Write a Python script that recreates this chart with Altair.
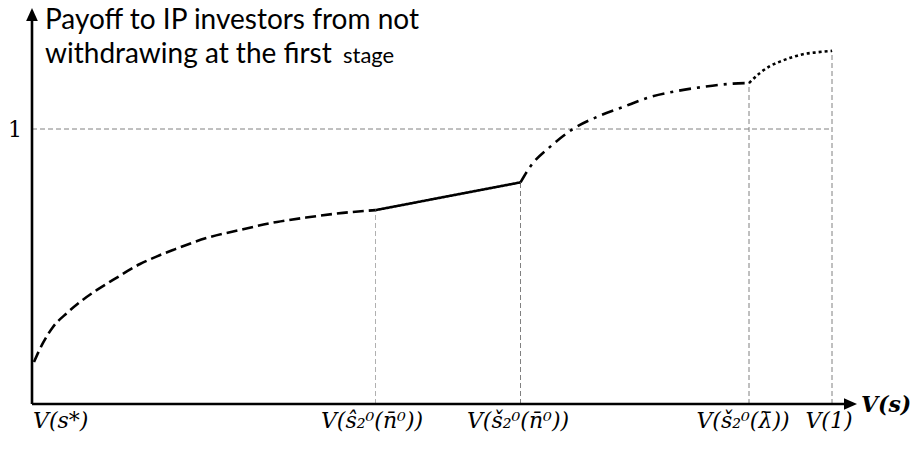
import altair as alt
import pandas as pd

# ---------------- data ----------------
# x: position along V(s) axis (0 = V(s*), 800 = V(1)); y: payoff (1 = reference level)
dashed_x = [2, 11, 21, 35, 48, 65, 81, 108, 125, 141, 175, 208, 245, 278, 311, 343.5]
dashed_y = [0.153, 0.222, 0.280, 0.331, 0.371, 0.415, 0.451, 0.509, 0.537, 0.560,
            0.604, 0.633, 0.662, 0.680, 0.695, 0.705]
solid_x = [343.5, 488.5]
solid_y = [0.705, 0.806]
dashdot_x = [488.5, 498, 518, 541, 565, 591, 618, 645, 671, 701, 717]
dashdot_y = [0.806, 0.862, 0.935, 1.000, 1.044, 1.080, 1.116, 1.138, 1.153, 1.165, 1.167]
dotted_x = [717, 728, 738, 748, 760, 771, 785, 800]
dotted_y = [1.167, 1.204, 1.229, 1.245, 1.261, 1.272, 1.279, 1.284]

tick_x = [343.5, 488.5, 717, 800]
tick_top = [0.705, 0.806, 1.167, 1.284]
tick_colors = ["#b0b0b0", "#808080", "#808080", "#808080"]
tick_labels = ["V(s*)", "V(ŝ₂⁰(n̄⁰))", "V(š₂⁰(n̄⁰))", "V(š₂⁰(λ̄))", "V(1)"]
tick_label_x = [1, 340, 486, 711, 797]
ref_level = 1
title_lines = ["Payoff to IP investors from not", "withdrawing at the first"]
title_small = "stage"
x_axis_title = "V(s)"

X_MAX = 825
Y_MAX = 396 / 275

xs = alt.Scale(domain=[0, X_MAX], nice=False, zero=False)
ys = alt.Scale(domain=[0, Y_MAX], nice=False, zero=False)


def seg_line(xv, yv, dash, cap="butt"):
    df = pd.DataFrame({"x": xv, "y": yv, "o": list(range(len(xv)))})
    return alt.Chart(df).mark_line(
        color="black", strokeWidth=2.6, strokeDash=dash, strokeCap=cap,
        interpolate="monotone"
    ).encode(
        x=alt.X("x:Q", scale=xs, axis=None),
        y=alt.Y("y:Q", scale=ys, axis=None),
        order="o:Q",
    )


# reference (guide) lines
vdf = pd.DataFrame({"x": tick_x, "y": [0] * len(tick_x), "y2": tick_top, "c": tick_colors})
vlines = alt.Chart(vdf).mark_rule(strokeWidth=1, strokeDash=[5, 3]).encode(
    x=alt.X("x:Q", scale=xs, axis=None),
    y=alt.Y("y:Q", scale=ys, axis=None),
    y2="y2:Q",
    color=alt.Color("c:N", scale=None),
)
hdf = pd.DataFrame({"x": [0], "x2": [tick_x[-1]], "y": [ref_level]})
hline = alt.Chart(hdf).mark_rule(strokeWidth=1, strokeDash=[5, 3], color="#808080").encode(
    x=alt.X("x:Q", scale=xs, axis=None),
    x2="x2:Q",
    y=alt.Y("y:Q", scale=ys, axis=None),
)

# axes with arrows
adf = pd.DataFrame({"x": [0, 0], "x2": [0, X_MAX - 8], "y": [0, 0], "y2": [Y_MAX - 8 / 275, 0]})
axes = alt.Chart(adf).mark_rule(color="black", strokeWidth=2.6).encode(
    x=alt.X("x:Q", scale=xs, axis=None),
    x2="x2:Q",
    y=alt.Y("y:Q", scale=ys, axis=None),
    y2="y2:Q",
)
up_head = alt.Chart(pd.DataFrame({"x": [0], "y": [Y_MAX]})).mark_point(
    shape="M0,0L-0.45,1L0.45,1Z", size=676, filled=True, fill="black", opacity=1, strokeWidth=0
).encode(x=alt.X("x:Q", scale=xs, axis=None), y=alt.Y("y:Q", scale=ys, axis=None))
right_head = alt.Chart(pd.DataFrame({"x": [X_MAX], "y": [0]})).mark_point(
    shape="M0,0L-1,-0.45L-1,0.45Z", size=676, filled=True, fill="black", opacity=1, strokeWidth=0
).encode(x=alt.X("x:Q", scale=xs, axis=None), y=alt.Y("y:Q", scale=ys, axis=None))

# labels
ldf = pd.DataFrame({"x": tick_label_x, "t": tick_labels})
labels_left = alt.Chart(ldf.iloc[:1]).mark_text(
    font="DejaVu Serif", fontStyle="italic", fontSize=22, align="left", baseline="middle", color="black"
).encode(x=alt.X("x:Q", scale=xs, axis=None), y=alt.value(413), text="t:N")
labels_c = alt.Chart(ldf.iloc[1:]).mark_text(
    font="DejaVu Serif", fontStyle="italic", fontSize=22, align="center", baseline="middle", color="black"
).encode(x=alt.X("x:Q", scale=xs, axis=None), y=alt.value(413), text="t:N")

one = alt.Chart(pd.DataFrame({"x": [0], "y": [ref_level], "t": [str(ref_level)]})).mark_text(
    font="DejaVu Serif", fontSize=22, align="center", baseline="middle", dx=-17, dy=1, color="black"
).encode(x=alt.X("x:Q", scale=xs, axis=None), y=alt.Y("y:Q", scale=ys, axis=None), text="t:N")

vs = alt.Chart(pd.DataFrame({"x": [X_MAX], "y": [0], "t": [x_axis_title]})).mark_text(
    font="DejaVu Serif", fontStyle="italic", fontWeight="bold", fontSize=22,
    align="left", baseline="middle", dx=4, dy=1, color="black"
).encode(x=alt.X("x:Q", scale=xs, axis=None), y=alt.Y("y:Q", scale=ys, axis=None), text="t:N")

t1 = alt.Chart(pd.DataFrame({"t": [title_lines[0]]})).mark_text(
    font="Lato", fontSize=28, align="left", baseline="alphabetic", color="black"
).encode(x=alt.value(13), y=alt.value(21), text="t:N")
t2 = alt.Chart(pd.DataFrame({"t": [title_lines[1]]})).mark_text(
    font="Lato", fontSize=28, align="left", baseline="alphabetic", color="black"
).encode(x=alt.value(13), y=alt.value(55), text="t:N")
t3 = alt.Chart(pd.DataFrame({"t": [title_small]})).mark_text(
    font="Lato", fontSize=22, align="left", baseline="alphabetic", color="black"
).encode(x=alt.value(311), y=alt.value(55), text="t:N")

chart = alt.layer(
    hline, vlines,
    seg_line(dashed_x, dashed_y, [11, 5]),
    seg_line(solid_x, solid_y, [1, 0]),
    seg_line(dashdot_x, dashdot_y, [12, 6, 3, 6]),
    seg_line(dotted_x, dotted_y, [3, 3]),
    axes, up_head, right_head,
    labels_left, labels_c, one, vs, t1, t2, t3,
).properties(
    width=825, height=396,
    padding={"left": 24, "top": 0, "right": 54, "bottom": 28},
    autosize=alt.AutoSizeParams(type="none"),
    background="white",
).configure_view(stroke=None)

chart.save("out.html", embed_options={"renderer": "svg", "actions": False})
